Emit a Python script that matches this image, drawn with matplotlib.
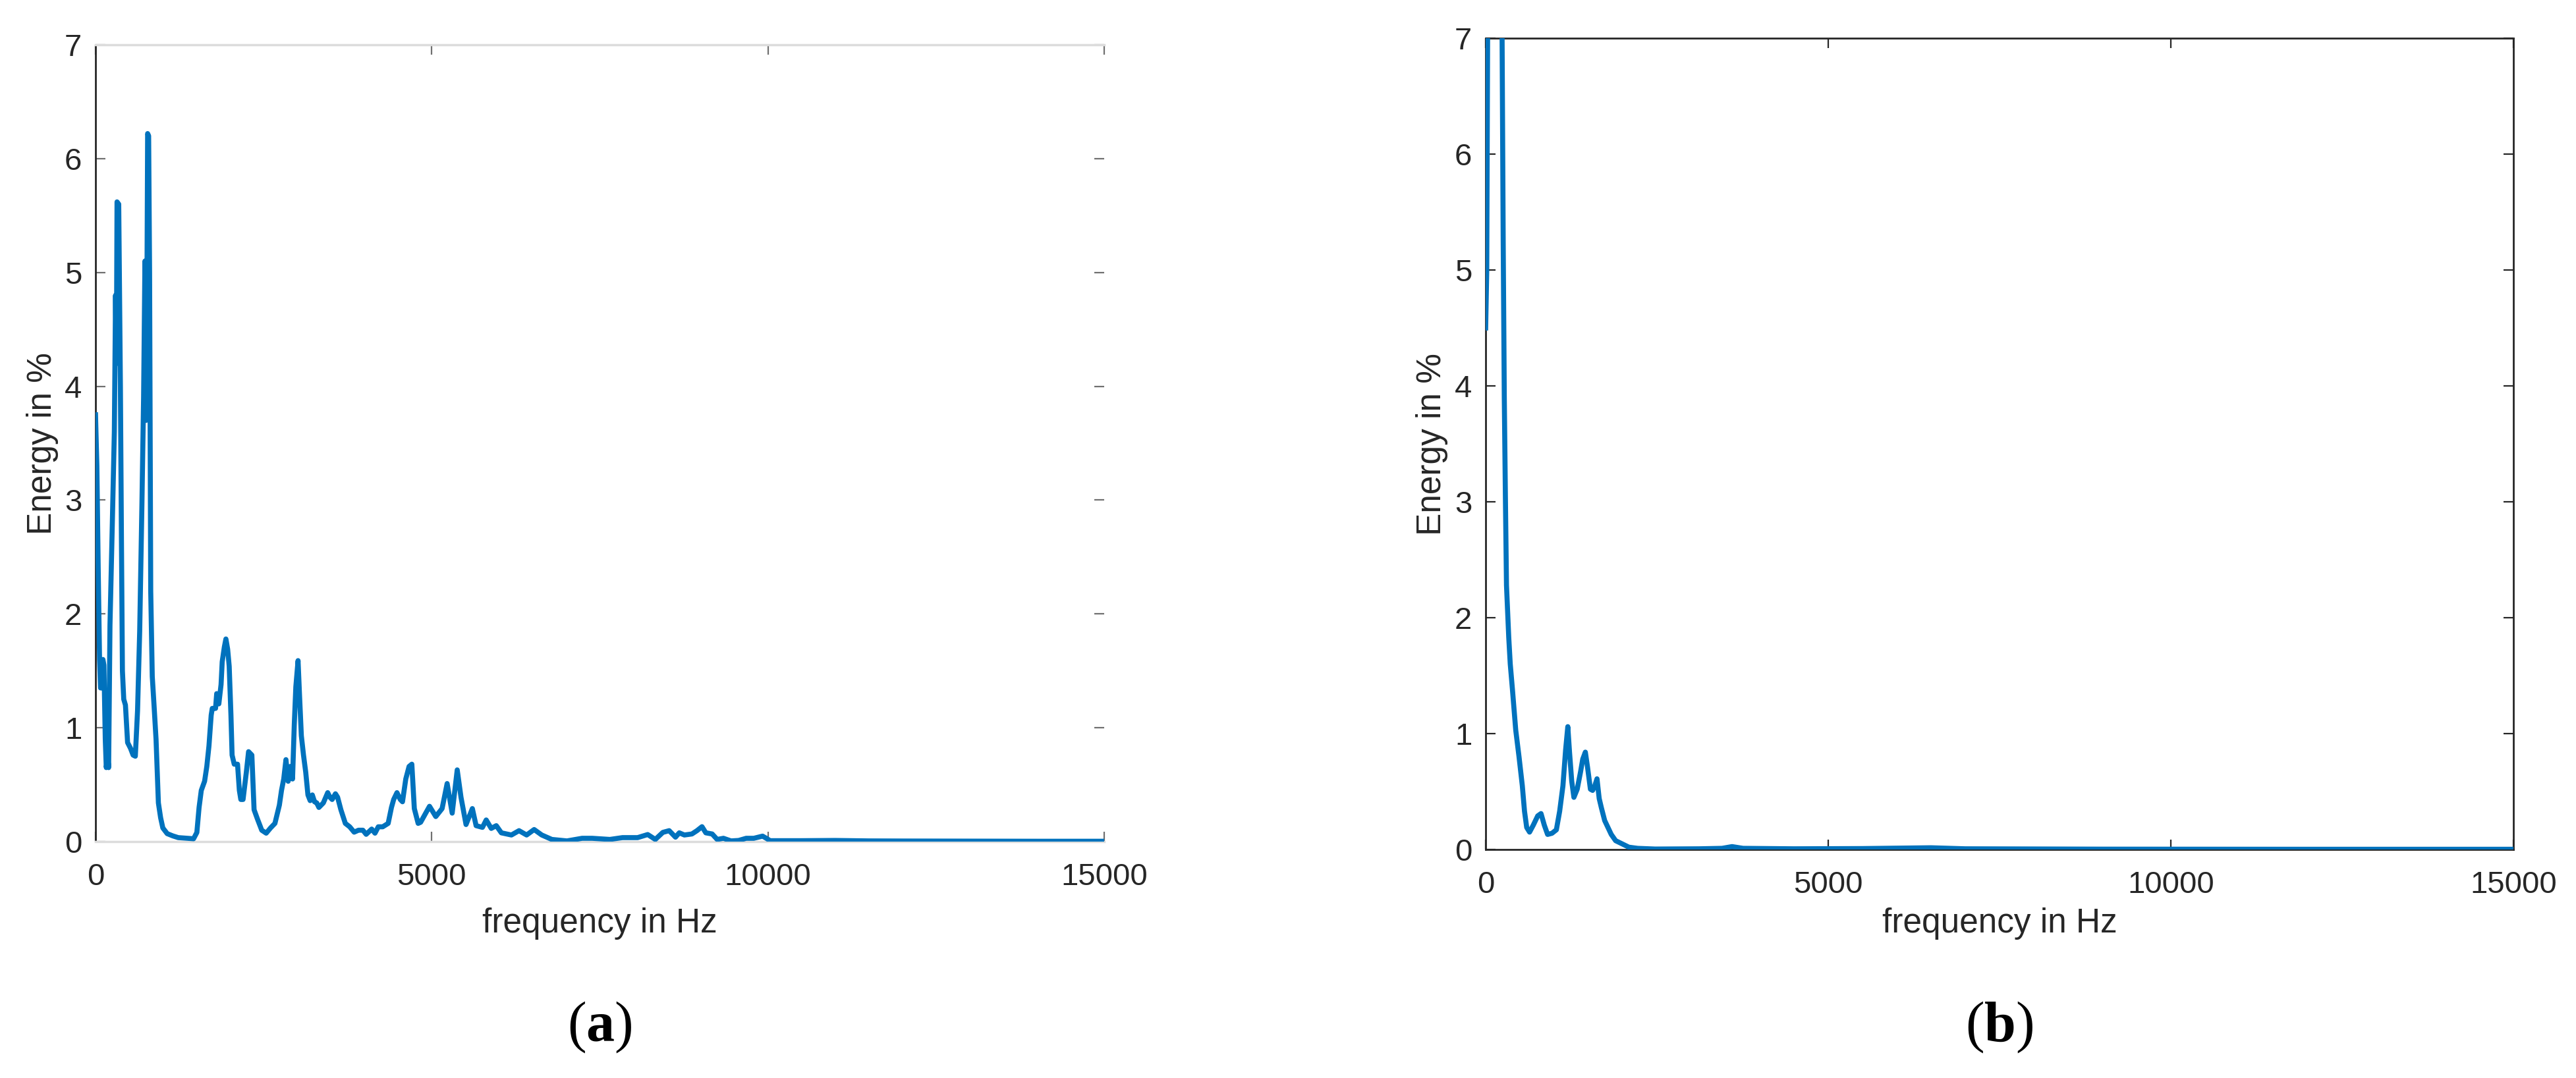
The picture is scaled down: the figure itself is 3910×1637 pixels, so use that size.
import matplotlib
matplotlib.use("Agg")
import matplotlib.pyplot as plt

# ---------------- data ----------------
freq_a = [0, 20, 40, 60, 75, 95, 110, 125, 145, 160, 180, 195, 215, 250, 280,
          298, 310, 320, 345, 370, 385, 400, 420, 445, 477, 520, 559, 592, 625,
          657, 690, 715, 735, 750, 765, 775, 790, 804, 811, 821, 844, 870, 900,
          935, 968, 1001, 1066, 1150, 1230, 1350, 1458, 1507, 1540, 1573, 1622,
          1655, 1687, 1720, 1736, 1785, 1802, 1834, 1867, 1884, 1916, 1939, 1965,
          1988, 2014, 2031, 2063, 2112, 2139, 2161, 2194, 2243, 2276, 2325, 2358,
          2407, 2472, 2538, 2603, 2668, 2734, 2766, 2799, 2832, 2865, 2897, 2930,
          2956, 2979, 3012, 3035, 3061, 3093, 3126, 3159, 3192, 3224, 3257, 3290,
          3322, 3388, 3453, 3486, 3519, 3568, 3600, 3649, 3715, 3780, 3846, 3911,
          3976, 4025, 4107, 4156, 4205, 4271, 4352, 4401, 4434, 4483, 4532, 4565,
          4614, 4663, 4704, 4741, 4798, 4835, 4967, 5060, 5154, 5229, 5304, 5379,
          5435, 5510, 5604, 5660, 5754, 5810, 5885, 5960, 6035, 6185, 6298, 6411,
          6523, 6636, 6786, 7011, 7236, 7386, 7649, 7837, 8062, 8212, 8325, 8437,
          8531, 8625, 8681, 8757, 8869, 8944, 9019, 9076, 9170, 9245, 9338, 9451,
          9564, 9676, 9789, 9920, 9976, 10032, 10500, 11000, 11500, 12000, 13000,
          14000, 15000]
energy_a = [3.75, 3.3, 2.4, 1.6, 1.35, 1.35, 1.6, 1.55, 0.9, 0.65, 0.75, 0.65, 1.9, 2.8, 3.6,
            4.8, 4.2, 5.62, 5.6, 4.0, 2.7, 1.5, 1.25, 1.2, 0.87, 0.82, 0.76, 0.75, 1.15,
            1.85, 2.96, 3.9, 5.1, 3.7, 4.9, 6.22, 6.2, 5.0, 3.9, 2.2, 1.45, 1.2, 0.9,
            0.34, 0.21, 0.12, 0.07, 0.05, 0.035, 0.03, 0.025, 0.08, 0.30, 0.45, 0.53,
            0.66, 0.84, 1.11, 1.17, 1.17, 1.30, 1.21, 1.38, 1.58, 1.71, 1.78, 1.69,
            1.54, 1.11, 0.76, 0.68, 0.68, 0.45, 0.37, 0.37, 0.61, 0.79, 0.76, 0.28,
            0.20, 0.10, 0.074, 0.12, 0.16, 0.32, 0.45, 0.55, 0.72, 0.53, 0.66, 0.55,
            1.03, 1.36, 1.59, 1.27, 0.93, 0.76, 0.61, 0.41, 0.36, 0.41, 0.35, 0.34,
            0.30, 0.34, 0.43, 0.39, 0.37, 0.42, 0.39, 0.28, 0.16, 0.13, 0.083, 0.10,
            0.10, 0.064, 0.11, 0.074, 0.13, 0.13, 0.16, 0.30, 0.37, 0.43, 0.37, 0.35,
            0.55, 0.66, 0.68, 0.29, 0.16, 0.17, 0.31, 0.22, 0.29, 0.51, 0.25, 0.63,
            0.39, 0.15, 0.29, 0.14, 0.125, 0.19, 0.116, 0.14, 0.077, 0.058, 0.096, 0.058,
            0.106, 0.058, 0.019, 0.006, 0.029, 0.029, 0.019, 0.035, 0.035, 0.062, 0.019, 0.081,
            0.096, 0.039, 0.077, 0.058, 0.067, 0.096, 0.131, 0.077, 0.067, 0.019, 0.029, 0.006,
            0.01, 0.029, 0.029, 0.048, 0.029, 0.008, 0.008, 0.01, 0.006, 0.005, 0.004,
            0.003, 0.003]

freq_b = [0, 16, 32, 80, 140, 200, 240, 256, 272, 288, 304, 337, 359, 391, 439,
          487, 535, 567, 599, 641, 695, 760, 808, 856, 904, 968, 1032, 1080, 1128,
          1167, 1199, 1224, 1256, 1288, 1336, 1385, 1417, 1455, 1487, 1529, 1561,
          1593, 1625, 1657, 1689, 1737, 1785, 1833, 1897, 1994, 2090, 2218, 2474,
          3115, 3450, 3596, 3756, 4500, 5500, 6500, 7000, 9000, 12000, 15000]
energy_b = [4.5, 5.0, 7.6, 10.5, 12.0, 10.0, 7.0, 5.25, 3.9, 3.05, 2.28, 1.83, 1.6, 1.38, 1.03,
            0.8, 0.55, 0.33, 0.19, 0.15, 0.21, 0.29, 0.31, 0.21, 0.13, 0.14, 0.17, 0.33, 0.55,
            0.86, 1.06, 0.84, 0.59, 0.45, 0.52, 0.67, 0.78, 0.84, 0.71, 0.52, 0.51,
            0.55, 0.61, 0.44, 0.36, 0.25, 0.19, 0.13, 0.076, 0.048, 0.02, 0.01, 0.004,
            0.006, 0.01, 0.025, 0.01, 0.006, 0.008, 0.015, 0.006, 0.003, 0.002, 0.002]

x_ticks = [0, 5000, 10000, 15000]
y_ticks = [0, 1, 2, 3, 4, 5, 6, 7]
x_label = "frequency in Hz"
y_label = "Energy in %"
panel_tags = ["a", "b"]

# ---------------- style ----------------
plt.rcParams['font.family'] = ['Liberation Sans', 'DejaVu Sans']
plt.rcParams['mathtext.fontset'] = 'custom'
plt.rcParams['mathtext.rm'] = 'Liberation Serif'
plt.rcParams['mathtext.bf'] = 'Liberation Serif:bold'

LINE = '#0072BD'
DARK = '#262626'

fig = plt.figure(figsize=(39.1, 16.37), dpi=100)
ax1 = fig.add_axes([0.03708, 0.21930, 0.39156, 0.73916])
ax2 = fig.add_axes([0.57673, 0.21197, 0.39898, 0.75260])

for ax, f, e in ((ax1, freq_a, energy_a), (ax2, freq_b, energy_b)):
    ax.plot(f, e, color=LINE, lw=5.5, zorder=3)
    ax.set_xlim(0, 15000)
    ax.set_ylim(0, 7)
    ax.set_xticks(x_ticks)
    ax.set_yticks(y_ticks)
    ax.tick_params(direction='in', length=11, width=1.6, labelsize=34,
                   labelcolor=DARK, top=True, right=True)
    ax.tick_params(axis='x', pad=23)
    ax.tick_params(axis='y', pad=15)
    ax.set_xlabel(x_label, fontsize=37, color=DARK)
    ax.set_ylabel(y_label, fontsize=37, color=DARK)
    ax.yaxis.set_label_coords(-0.0366, 0.5)

# left panel: faded box (as in the reference)
ax1.spines['left'].set_color(DARK)
ax1.spines['left'].set_linewidth(2)
for s in ('top', 'bottom'):
    ax1.spines[s].set_color('#dcdcdc')
    ax1.spines[s].set_linewidth(2.5)
ax1.spines['right'].set_visible(False)
ax1.tick_params(color='#707070')
ax1.xaxis.set_label_coords(0.5, -0.083)

# right panel: full dark box
for s in ax2.spines.values():
    s.set_color(DARK)
    s.set_linewidth(2)
ax2.tick_params(color=DARK)
ax2.xaxis.set_label_coords(0.5, -0.0714)

# panel tags, centred under each panel
for ax, tag in ((ax1, panel_tags[0]), (ax2, panel_tags[1])):
    pos = ax.get_position()
    fig.text(pos.x0 + pos.width / 2, 1 - 1560 / 1637, '($\\mathbf{' + tag + '}$)',
             ha='center', va='center', fontsize=62,
             family=['Liberation Serif', 'DejaVu Serif'], color='black')

fig.savefig('out.png', dpi=100, facecolor='white')
